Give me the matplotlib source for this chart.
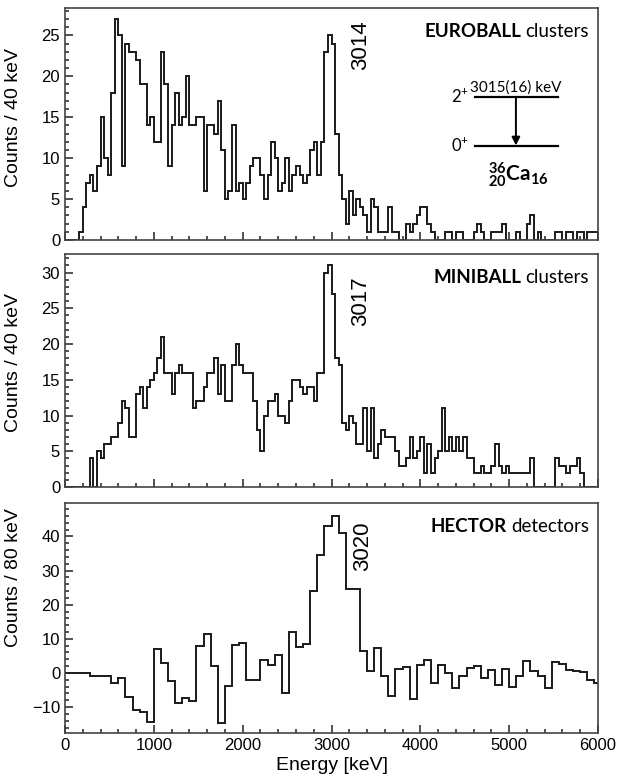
import matplotlib
matplotlib.use("Agg")
import matplotlib.pyplot as plt
import numpy as np
from matplotlib.ticker import MultipleLocator

plt.rcParams['font.family'] = ['Liberation Sans', 'DejaVu Sans']
plt.rcParams['mathtext.fontset'] = 'custom'
plt.rcParams['mathtext.rm'] = 'Lato'
plt.rcParams['mathtext.bf'] = 'Lato:bold'

# EUROBALL clusters, 40 keV bins from 0 to 6000 keV
euroball_counts = [
    0, 0, 0, 0, 1, 4, 7, 8, 6, 9,
    15, 10, 8, 18, 27, 25, 9, 24, 23, 23,
    22, 19, 19, 14, 15, 12, 12, 23, 19, 9,
    14, 18, 14, 15, 20, 14, 14, 15, 15, 6,
    14, 14, 13, 17, 11, 5, 6, 14, 6, 7,
    5, 7, 9, 10, 10, 8, 5, 8, 12, 10,
    6, 7, 10, 6, 8, 9, 8, 7, 8, 11,
    12, 8, 12, 23, 25, 24, 13, 8, 5, 2,
    6, 3, 5, 4, 3, 1, 5, 4, 1, 1,
    1, 4, 1, 1, 0, 0, 2, 1, 2, 3,
    4, 4, 2, 1, 0, 0, 0, 1, 1, 0,
    1, 1, 0, 0, 0, 1, 2, 1, 0, 0,
    1, 1, 1, 2, 0, 0, 0, 1, 0, 0,
    2, 3, 0, 1, 0, 0, 0, 0, 1, 1,
    0, 1, 1, 0, 1, 1, 0, 1, 1, 1,
]

# MINIBALL clusters, 40 keV bins from 0 to 6000 keV
miniball_counts = [
    0, 0, 0, 0, 0, 0, 0, 4, 0, 5,
    4, 6, 6, 7, 7, 9, 12, 11, 7, 7,
    13, 14, 11, 14, 15, 16, 18, 21, 16, 16,
    13, 16, 17, 16, 16, 16, 11, 12, 12, 14,
    16, 16, 18, 13, 17, 12, 12, 17, 20, 17,
    16, 16, 16, 12, 8, 5, 10, 12, 12, 13,
    10, 10, 9, 12, 15, 15, 14, 13, 14, 14,
    12, 16, 16, 30, 31, 27, 18, 17, 9, 8,
    10, 9, 6, 6, 11, 5, 11, 4, 6, 8,
    7, 7, 7, 5, 3, 3, 4, 7, 4, 5,
    7, 2, 6, 2, 4, 5, 11, 5, 7, 5,
    7, 5, 7, 4, 4, 2, 2, 3, 2, 2,
    3, 6, 3, 2, 3, 2, 2, 2, 2, 2,
    2, 4, 0, 0, 0, 0, 0, 0, 4, 3,
    3, 2, 3, 3, 4, 2, 0, 0, 0, 0,
]

# HECTOR detectors, 80 keV bins centred on multiples of 80 keV
hector_counts = [
    0, 0, 0, 0, -0.8, -0.8, -1, -3, -1.5, -7,
    -11, -11.5, -14.5, 7, 3, -2.5, -8.8, -7.3, -8.3, 8,
    11.3, 2.1, -14.7, -3.9, 8.3, 8.8, -2, -2, 3.7, 2.4,
    5.4, -6, 11.9, 7.5, 8.5, 24, 34.6, 43, 46, 41,
    24.6, 24.6, 6.3, 0.7, 7.3, -0.8, -6.8, 1.2, 1.7, -7.6,
    2.4, 3.9, -3, 2.4, 0, -4.4, -1, 1.5, 2, -1.5,
    1, -3.5, 1.2, -4, -1, 3.4, 0.5, -1, -4.4, 3.1,
    2.7, 1, 0.5, 0.2, -2, -3,
]

edges_40 = np.arange(0, 6001, 40)
edges_80 = np.arange(-40, 6041, 80)

line_color = '#1a1a1a'
fig = plt.figure(figsize=(6.27, 7.8), dpi=100)
left, width = 65 / 627, 533 / 627
ax1 = fig.add_axes([left, 540 / 780, width, 231.7 / 780])
ax2 = fig.add_axes([left, 293 / 780, width, 233 / 780])
ax3 = fig.add_axes([left, 47 / 780, width, 230 / 780])

ax1.stairs(euroball_counts, edges_40, color=line_color, lw=1.4)
ax2.stairs(miniball_counts, edges_40, color=line_color, lw=1.4)
ax3.stairs(hector_counts, edges_80, color=line_color, lw=1.4)

ax1.set_ylim(0, 28.3)
ax2.set_ylim(0, 32.6)
ax3.set_ylim(-17.6, 49.8)

for ax, major, minor in [(ax1, 5, 1), (ax2, 5, 1), (ax3, 10, 2)]:
    ax.set_xlim(0, 6000)
    ax.xaxis.set_major_locator(MultipleLocator(1000))
    ax.xaxis.set_minor_locator(MultipleLocator(200))
    ax.yaxis.set_major_locator(MultipleLocator(major))
    ax.yaxis.set_minor_locator(MultipleLocator(minor))
    ax.tick_params(which='both', direction='in', top=False, right=False,
                   labelsize=12, width=1.1, color='#222222')
    ax.tick_params(which='major', length=6)
    ax.tick_params(which='minor', length=3)
    for sp in ax.spines.values():
        sp.set_linewidth(1.2)
        sp.set_color('#444444')

ax1.tick_params(labelbottom=False)
ax2.tick_params(labelbottom=False)

ax1.set_ylabel('Counts / 40 keV', fontsize=14)
ax2.set_ylabel('Counts / 40 keV', fontsize=14)
ax3.set_ylabel('Counts / 80 keV', fontsize=14)
ax1.yaxis.set_label_coords(-0.08, 0.527)
ax2.yaxis.set_label_coords(-0.08, 0.536)
ax3.yaxis.set_label_coords(-0.08, 0.674)
ax3.set_xlabel('Energy [keV]', fontsize=14, labelpad=3)

# detector labels: bold array name followed by normal text
for ax, name, rest in [(ax1, 'EUROBALL', 'clusters'),
                       (ax2, 'MINIBALL', 'clusters'),
                       (ax3, 'HECTOR', 'detectors')]:
    t = ax.text(0.983, 0.9, rest, transform=ax.transAxes, ha='right',
                va='center', fontsize=13.5, family='Lato')
    ax.annotate(name, xy=(0, 0), xycoords=t, xytext=(-3, 0),
                textcoords='offset points', ha='right', va='bottom',
                fontsize=13.5, family='Lato', fontweight='bold')

# peak energies
ax1.text(3330, 23.8, '3014', rotation=90, ha='center', va='center', fontsize=16)
ax2.text(3330, 26.0, '3017', rotation=90, ha='center', va='center', fontsize=16)
ax3.text(3350, 37.0, '3020', rotation=90, ha='center', va='center', fontsize=16)

# level scheme of 36Ca
tr = ax1.transAxes
ax1.plot([0.769, 0.925], [0.617, 0.617], color='k', lw=1.6, transform=tr)
ax1.plot([0.769, 0.925], [0.406, 0.406], color='k', lw=1.6, transform=tr)
ax1.annotate('', xy=(0.846, 0.408), xytext=(0.846, 0.617),
             xycoords='axes fraction',
             arrowprops=dict(arrowstyle='-|>', color='k', lw=1.4,
                             mutation_scale=12, shrinkA=0, shrinkB=0))
ax1.text(0.758, 0.617, '2$^{+}$', transform=tr, ha='right', va='center',
         fontsize=12, family='Lato')
ax1.text(0.758, 0.406, '0$^{+}$', transform=tr, ha='right', va='center',
         fontsize=12, family='Lato')
ax1.text(0.846, 0.627, '3015(16) keV', transform=tr, ha='center', va='bottom',
         fontsize=11, family='Lato')
ax1.text(0.85, 0.28, r'$\mathbf{^{36}_{20}Ca_{16}}$', transform=tr,
         ha='center', va='center', fontsize=15)

fig.savefig('out.png', dpi=100)
